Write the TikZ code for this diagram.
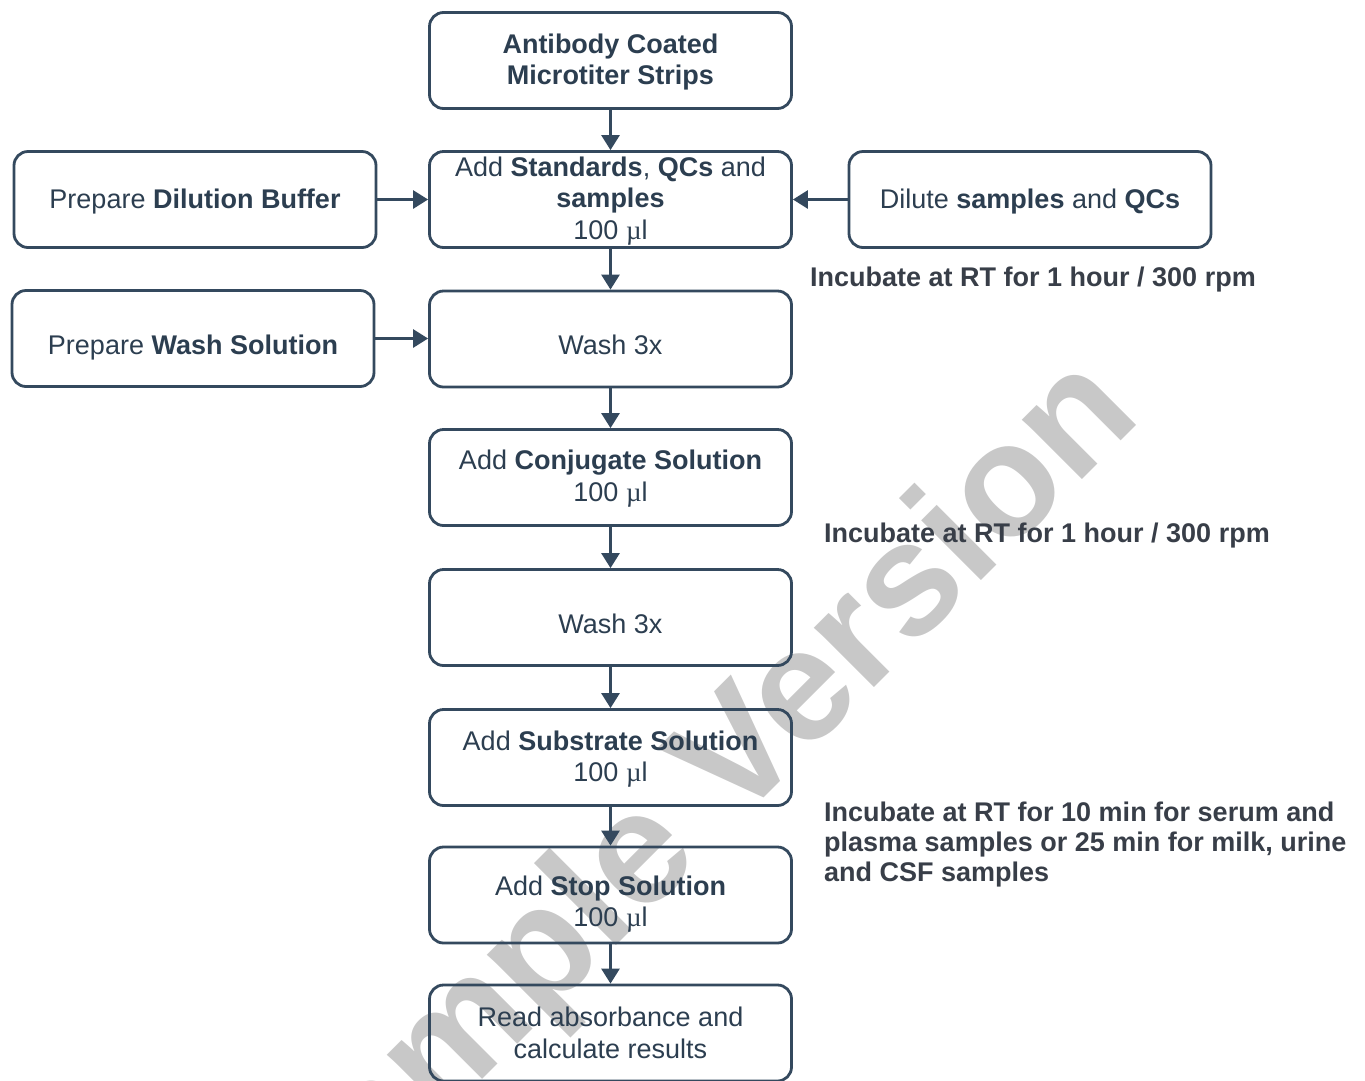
\documentclass[tikz,border=0pt]{standalone}
\usepackage{fontspec}
\setmainfont{Liberation Sans}
\newfontfamily\mufont{Liberation Serif}
\usetikzlibrary{arrows.meta}
\definecolor{edgec}{RGB}{52,73,94}
\definecolor{textc}{RGB}{44,62,80}
\definecolor{labc}{RGB}{56,62,72}
\definecolor{wmc}{RGB}{200,200,200}
\newcommand{\microl}{{\mufont µ}l}
\newcommand{\lowstrut}[1]{\rule{0pt}{#1}}
\tikzset{
  box/.style={draw=edgec, line width=2.8pt, rounded corners=14pt, minimum width=362pt, minimum height=96pt, align=center, text=textc, font=\fontsize{27}{31.5}\selectfont, inner sep=0pt},
  conn/.style={draw=edgec, line width=2.8pt, -{Triangle[width=18pt,length=15pt]}},
  note/.style={anchor=west, text=labc, font=\fontsize{27}{30}\selectfont\bfseries, align=left, inner sep=0pt},
  wm/.style={text=wmc, font=\fontsize{160}{160}\selectfont\bfseries, rotate=45, anchor=base, inner sep=0pt}
}
\begin{document}
\begin{tikzpicture}[x=1pt,y=-1pt]
\useasboundingbox (0,0) rectangle (1365,1080);
\clip (0,0) rectangle (1365,1080);
\node[wm] (wm) at (722,840) {Sample Version};
% main column
\node[box] (b1) at (610.5,60.5) {\lowstrut{23pt}\textbf{Antibody Coated}\\\textbf{Microtiter Strips}};
\node[box] (b2) at (610.5,199.5) {\lowstrut{22pt}Add \textbf{Standards}, \textbf{QCs} and\\\textbf{samples}\\100 \microl};
\node[box] (b3) at (610.5,339) {\lowstrut{32pt}Wash 3x};
\node[box] (b4) at (610.5,477.5) {\lowstrut{22pt}Add \textbf{Conjugate Solution}\\100 \microl};
\node[box] (b5) at (610.5,617.5) {\lowstrut{33pt}Wash 3x};
\node[box] (b6) at (610.5,757.5) {\lowstrut{23pt}Add \textbf{Substrate Solution}\\100 \microl};
\node[box] (b7) at (610.5,895) {\lowstrut{38pt}Add \textbf{Stop Solution}\\100 \microl};
\node[box] (b8) at (610.5,1033) {Read absorbance and\\calculate results};
% side boxes
\node[box] (l1) at (195,199.5) {\lowstrut{23pt}Prepare \textbf{Dilution Buffer}};
\node[box] (l2) at (193,338.5) {\lowstrut{38pt}Prepare \textbf{Wash Solution}};
\node[box] (r1) at (1030,199.5) {\lowstrut{23pt}Dilute \textbf{samples} and \textbf{QCs}};
% connectors
\draw[conn] (b1) -- (b2);
\draw[conn] (b2) -- (b3);
\draw[conn] (b3) -- (b4);
\draw[conn] (b4) -- (b5);
\draw[conn] (b5) -- (b6);
\draw[conn] (b6) -- (b7);
\draw[conn] (b7) -- (b8);
\draw[conn] (l1) -- (b2);
\draw[conn] (l2.east) -- (b3.west |- l2.east);
\draw[conn] (r1) -- (b2);
% notes
\node[note] (n1) at (810,280) {Incubate at RT for 1 hour / 300 rpm};
\node[note] (n2) at (824,536) {Incubate at RT for 1 hour / 300 rpm};
\node[note] (n3) at (824,845) {Incubate at RT for 10 min for serum and\\plasma samples or 25 min for milk, urine\\and CSF samples};
\end{tikzpicture}
\end{document}
